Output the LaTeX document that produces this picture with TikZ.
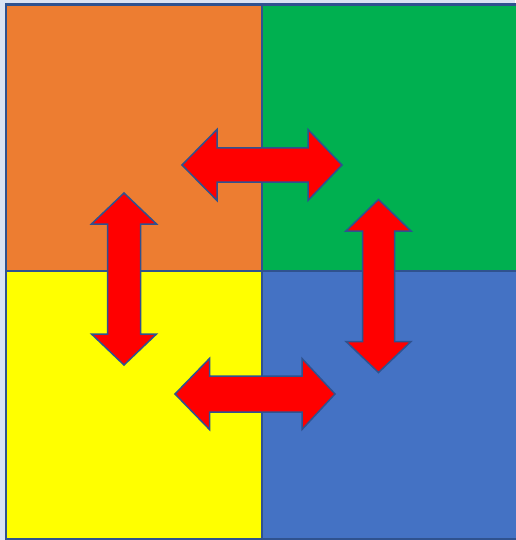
\documentclass[tikz,border=0pt]{standalone}
\definecolor{bgblue}{HTML}{DAE3F3}
\definecolor{edgeblue}{HTML}{2F528F}
\definecolor{qorange}{HTML}{ED7D31}
\definecolor{qgreen}{HTML}{00B050}
\definecolor{qyellow}{HTML}{FFFF00}
\definecolor{qblue}{HTML}{4472C4}
\definecolor{qred}{HTML}{FF0000}
\tikzset{
  quad/.style={draw=edgeblue, line width=2.4pt},
  dblarrow/.style={fill=qred, draw=edgeblue, line width=1.5pt, line join=miter}
}
\begin{document}
\begin{tikzpicture}[x=1pt,y=-1pt]
\useasboundingbox (0,0) rectangle (515,540);
\fill[bgblue] (0,0) rectangle (515,540);
% quadrants
\filldraw[quad, fill=qorange] (6.2,4.7) rectangle (262,271);
\filldraw[quad, fill=qgreen] (262,4.7) rectangle (520,271);
\filldraw[quad, fill=qyellow] (6.2,271) rectangle (262,539);
\filldraw[quad, fill=qblue] (262,271) rectangle (520,539);
% top horizontal arrow
\filldraw[dblarrow] (182,165) -- (217,129.5) -- (217,148) -- (308,148) -- (308,129.5) -- (342,165)
  -- (308,200.5) -- (308,182) -- (217,182) -- (217,200.5) -- cycle;
% left vertical arrow
\filldraw[dblarrow] (124,193) -- (156.5,224) -- (140.5,224) -- (140.5,334) -- (156.5,334) -- (124,365)
  -- (91.5,334) -- (107.5,334) -- (107.5,224) -- (91.5,224) -- cycle;
% right vertical arrow
\filldraw[dblarrow] (378.5,199.5) -- (411,231) -- (394.5,231) -- (394.5,341.5) -- (411,341.5) -- (378.5,372.5)
  -- (346,341.5) -- (362.5,341.5) -- (362.5,231) -- (346,231) -- cycle;
% bottom horizontal arrow
\filldraw[dblarrow] (175,394) -- (209.5,358.5) -- (209.5,376) -- (302,376) -- (302,358.5) -- (335,394)
  -- (302,429.5) -- (302,412) -- (209.5,412) -- (209.5,429.5) -- cycle;
\end{tikzpicture}
\end{document}
